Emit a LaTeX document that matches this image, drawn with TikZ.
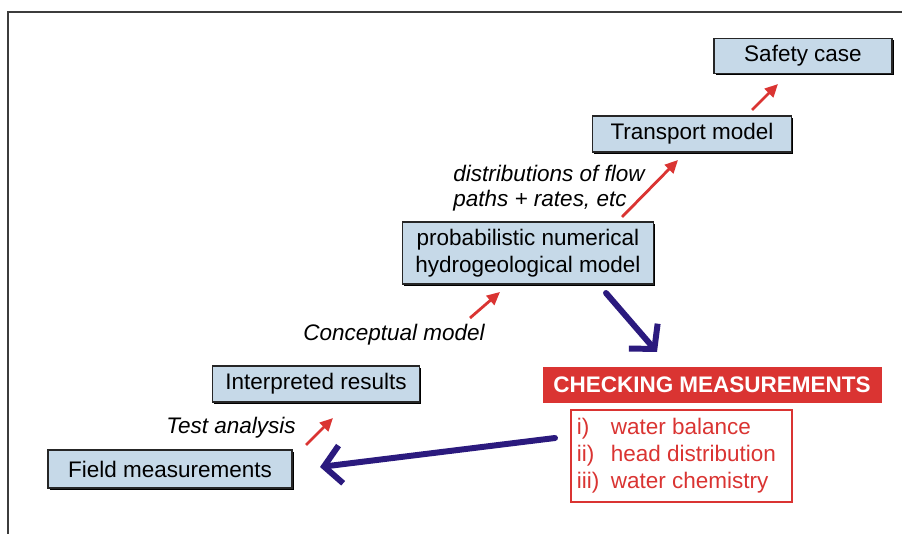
\documentclass[tikz,border=0pt]{standalone}
\usepackage{fontspec}
\setmainfont{Liberation Sans}
\definecolor{PaleSteel}{RGB}{198,217,232}
\definecolor{SignalRed}{RGB}{218,52,50}
\definecolor{DeepNavy}{RGB}{43,26,126}
\definecolor{FrameGrey}{RGB}{60,60,60}
\colorlet{ColourBox}{PaleSteel}
\colorlet{ColourHl1}{SignalRed}
\colorlet{ColourHl2}{DeepNavy}
\colorlet{ColourDark}{FrameGrey}
\usetikzlibrary{arrows.meta}
\usetikzlibrary{shadows}

\begin{document}
\begin{tikzpicture}[
    font=\fontsize{12.8}{15.3}\selectfont,
    modelbox/.style={draw=black!85, line width=1.1pt, fill=ColourBox, inner sep=0pt,
      drop shadow={shadow xshift=1.1pt, shadow yshift=-1.1pt, fill=black, opacity=1}},
    steplabel/.style={font=\fontsize{12.8}{14.2}\selectfont\itshape, inner sep=0pt},
    redarrow/.style={ColourHl1, line width=1.6pt, -{Triangle[length=2.6mm, width=2.4mm]}},
    bluearrow/.style={ColourHl2, line width=3.4pt, line cap=round,
      -{Straight Barb[length=3.4mm, width=7.6mm, line join=miter]}},
  ]

  \useasboundingbox (0,0) rectangle (18.04,10.68);

  \draw[ColourDark, line width=1pt] (0.16,0) -- (0.16,10.44) -- (18.04,10.44);

  % boxes of the modelling chain
  \node[modelbox, minimum width=4.88cm, minimum height=0.76cm] (field) at (3.40,1.30) {Field measurements};
  \node[modelbox, minimum width=4.14cm, minimum height=0.72cm] (interp) at (6.32,3.00) {Interpreted results};
  \node[modelbox, minimum width=5.02cm, minimum height=1.24cm, align=center] (prob) at (10.56,5.62)
    {probabilistic numerical\\hydrogeological model};
  \node[modelbox, minimum width=3.98cm, minimum height=0.72cm] (transport) at (13.84,8.00) {Transport model};
  \node[modelbox, minimum width=3.56cm, minimum height=0.70cm] (safety) at (16.06,9.56) {Safety case};

  % checking measurements
  \node[fill=ColourHl1, text=white, font=\fontsize{12.8}{15}\selectfont\bfseries,
    minimum width=6.78cm, minimum height=0.72cm, inner sep=0pt] (check) at (14.24,2.98) {CHECKING MEASUREMENTS};
  \node[draw=ColourHl1, line width=0.8pt, fill=white, text=ColourHl1, minimum width=4.42cm,
    minimum height=1.84cm, inner sep=0pt] (checklist) at (13.63,1.56)
    {\renewcommand{\arraystretch}{1.0}\begin{tabular}{@{}p{0.68cm}@{}l@{\hspace{0.2cm}}}
      i) & water balance\\ ii) & head distribution\\ iii) & water chemistry\end{tabular}};

  % step labels
  \node[steplabel] (testlbl) at (4.62,2.12) {Test analysis};
  \node[steplabel] (conclbl) at (7.88,3.98) {Conceptual model};
  \node[steplabel, anchor=west, align=left] (distlbl) at (9.06,6.91)
    {distributions of flow\\paths + rates, etc};

  % arrow ends
  \coordinate (ta1) at (6.12,1.78);  \coordinate (ta2) at (6.66,2.32);
  \coordinate (cm1) at (9.40,4.32);  \coordinate (cm2) at (10.00,4.84);
  \coordinate (df1) at (12.44,6.34); \coordinate (df2) at (13.56,7.48);
  \coordinate (sc1) at (15.04,8.48); \coordinate (sc2) at (15.56,9.00);
  \coordinate (bl1) at (12.12,4.82); \coordinate (bl2) at (13.14,3.64);
  \coordinate (bf1) at (11.10,1.92); \coordinate (bf2) at (6.40,1.34);

  \draw[redarrow] (ta1) -- (ta2);
  \draw[redarrow] (cm1) -- (cm2);
  \draw[redarrow] (df1) -- (df2);
  \draw[redarrow] (sc1) -- (sc2);

  \draw[bluearrow] (bl1) -- (bl2);
  \draw[bluearrow] (bf1) -- (bf2);

\end{tikzpicture}
\end{document}
